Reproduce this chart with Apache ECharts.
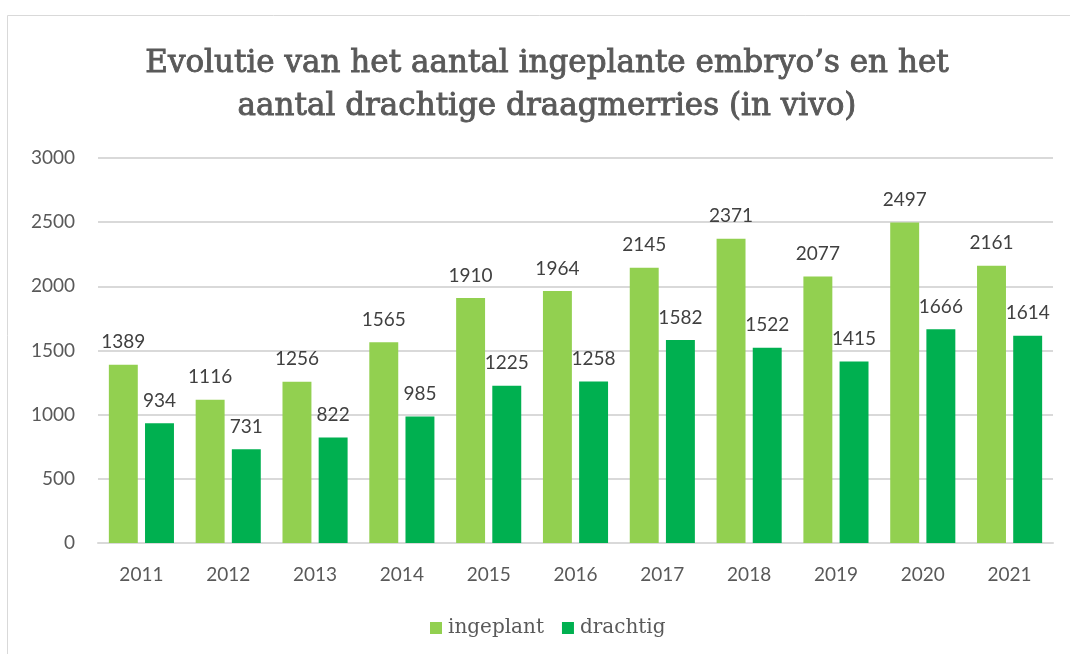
<!DOCTYPE html>
<html><head><meta charset="utf-8">
<script src="https://cdn.jsdelivr.net/npm/echarts@6/dist/echarts.min.js"></script>
<style>html,body{margin:0;padding:0;background:#fff}#c{width:1070px;height:654px}</style>
</head><body><div id="c"></div>
<script>
var categories = ['2011','2012','2013','2014','2015','2016','2017','2018','2019','2020','2021'];
var ingeplant = [1389,1116,1256,1565,1910,1964,2145,2371,2077,2497,2161];
var drachtig = [934,731,822,985,1225,1258,1582,1522,1415,1666,1614];
var yTicks = [0,500,1000,1500,2000,2500,3000];
var titleText = 'Evolutie van het aantal ingeplante embryo\u2019s en het\naantal drachtige draagmerries (in vivo)';

var chart = echarts.init(document.getElementById('c'), null, {renderer:'canvas'});
var labelStyle = {show:true, position:'top', distance:13, color:'#404040', fontSize:19, fontFamily:'Lato'};
chart.setOption({
  animation:false,
  graphic:[{type:'rect', shape:{x:7.5,y:15.5,width:1080,height:700}, style:{fill:'none', stroke:'#d9d9d9', lineWidth:1}, silent:true, z:-1}],
  title:{text:titleText, left:542, textAlign:'center', top:37, textStyle:{fontFamily:'DejaVu Serif', fontSize:31, fontWeight:'normal', color:'#595959', lineHeight:43, textBorderColor:'#595959', textBorderWidth:0.9}},
  legend:{bottom:11, left:425, itemWidth:12, itemHeight:12, itemGap:18, icon:'rect',
    textStyle:{fontFamily:'DejaVu Serif', fontSize:20, color:'#595959', padding:[0,0,0,1]}},
  grid:{left:98, right:17, top:158, bottom:111},
  xAxis:{type:'category', data:categories,
    axisLine:{lineStyle:{color:'#d9d9d9', width:2}}, axisTick:{show:false},
    axisLabel:{color:'#595959', fontSize:19, fontFamily:'Lato', margin:22}},
  yAxis:{type:'value', min:0, max:3000, interval:500,
    axisLine:{show:false}, axisTick:{show:false},
    splitLine:{lineStyle:{color:'#d9d9d9', width:2}},
    axisLabel:{color:'#595959', fontSize:19, fontFamily:'Lato', margin:23,
      formatter:function(v){return yTicks.indexOf(v)>=0 ? String(v) : '';}}},
  series:[
    {name:'ingeplant', type:'bar', data:ingeplant, barGap:'25%', barCategoryGap:'25%', itemStyle:{color:'#92D050'}, label:labelStyle},
    {name:'drachtig', type:'bar', data:drachtig, barGap:'25%', barCategoryGap:'25%', itemStyle:{color:'#00B050'}, label:labelStyle}
  ]
});
</script></body></html>
